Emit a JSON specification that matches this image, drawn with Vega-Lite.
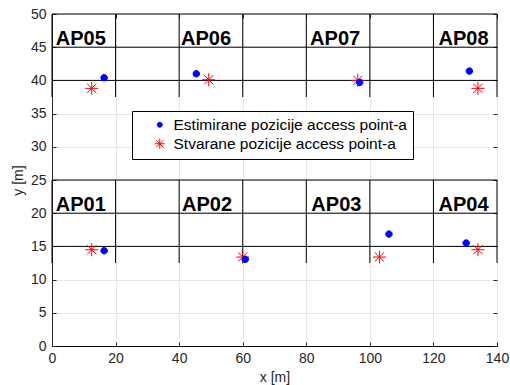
{
  "$schema": "https://vega.github.io/schema/vega-lite/v6.json",
  "width": 445,
  "height": 332,
  "autosize": {"type": "none"},
  "padding": {"left": 52, "top": 14, "right": 13, "bottom": 39},
  "background": "white",
  "config": {
    "view": {"stroke": null},
    "font": "Liberation Sans",
    "axis": {
      "labelFont": "Liberation Sans",
      "labelFontSize": 14,
      "labelColor": "#262626",
      "labelFlush": false,
      "labelOverlap": false,
      "titleFont": "Liberation Sans",
      "titleFontSize": 14,
      "titleFontWeight": "normal",
      "titleColor": "#262626",
      "tickColor": "#262626",
      "domainColor": "#262626",
      "gridColor": "#e6e6e6",
      "gridWidth": 1
    },
    "legend": {
      "labelFont": "Liberation Sans",
      "labelFontSize": 15.5,
      "labelColor": "#000000",
      "labelLimit": 400
    }
  },
  "datasets": {
    "walls": [
      {"x1": 0, "x2": 140, "y1": 50, "y2": 50},
      {"x1": 0, "x2": 140, "y1": 45, "y2": 45},
      {"x1": 0, "x2": 140, "y1": 40, "y2": 40},
      {"x1": 0, "x2": 140, "y1": 25, "y2": 25},
      {"x1": 0, "x2": 140, "y1": 20, "y2": 20},
      {"x1": 0, "x2": 140, "y1": 15, "y2": 15},
      {"x1": 0, "x2": 0, "y1": 37.5, "y2": 50},
      {"x1": 20, "x2": 20, "y1": 37.5, "y2": 50},
      {"x1": 40, "x2": 40, "y1": 37.5, "y2": 50},
      {"x1": 60, "x2": 60, "y1": 37.5, "y2": 50},
      {"x1": 80, "x2": 80, "y1": 37.5, "y2": 50},
      {"x1": 100, "x2": 100, "y1": 37.5, "y2": 50},
      {"x1": 120, "x2": 120, "y1": 37.5, "y2": 50},
      {"x1": 140, "x2": 140, "y1": 37.5, "y2": 50},
      {"x1": 0, "x2": 0, "y1": 12.5, "y2": 25},
      {"x1": 20, "x2": 20, "y1": 12.5, "y2": 25},
      {"x1": 40, "x2": 40, "y1": 12.5, "y2": 25},
      {"x1": 60, "x2": 60, "y1": 12.5, "y2": 25},
      {"x1": 80, "x2": 80, "y1": 12.5, "y2": 25},
      {"x1": 100, "x2": 100, "y1": 12.5, "y2": 25},
      {"x1": 120, "x2": 120, "y1": 12.5, "y2": 25},
      {"x1": 140, "x2": 140, "y1": 12.5, "y2": 25}
    ],
    "points": [
      {"ap": "AP01", "s": "Stvarane pozicije access point-a", "x": 12.5, "y": 14.5},
      {"ap": "AP02", "s": "Stvarane pozicije access point-a", "x": 60.0, "y": 13.4},
      {"ap": "AP03", "s": "Stvarane pozicije access point-a", "x": 103.0, "y": 13.4},
      {"ap": "AP04", "s": "Stvarane pozicije access point-a", "x": 134.0, "y": 14.5},
      {"ap": "AP05", "s": "Stvarane pozicije access point-a", "x": 12.5, "y": 38.8},
      {"ap": "AP06", "s": "Stvarane pozicije access point-a", "x": 49.3, "y": 40.1},
      {"ap": "AP07", "s": "Stvarane pozicije access point-a", "x": 96.2, "y": 40.0},
      {"ap": "AP08", "s": "Stvarane pozicije access point-a", "x": 134.0, "y": 38.8},
      {"ap": "AP01", "s": "Estimirane pozicije access point-a", "x": 16.4, "y": 14.35},
      {"ap": "AP02", "s": "Estimirane pozicije access point-a", "x": 60.8, "y": 13.05},
      {"ap": "AP03", "s": "Estimirane pozicije access point-a", "x": 106.0, "y": 16.85},
      {"ap": "AP04", "s": "Estimirane pozicije access point-a", "x": 130.3, "y": 15.5},
      {"ap": "AP05", "s": "Estimirane pozicije access point-a", "x": 16.4, "y": 40.4},
      {"ap": "AP06", "s": "Estimirane pozicije access point-a", "x": 45.4, "y": 41.0},
      {"ap": "AP07", "s": "Estimirane pozicije access point-a", "x": 96.8, "y": 39.7},
      {"ap": "AP08", "s": "Estimirane pozicije access point-a", "x": 131.3, "y": 41.4}
    ],
    "labels": [
      {"label": "AP01", "x": 1.2, "y": 20.4},
      {"label": "AP02", "x": 40.9, "y": 20.4},
      {"label": "AP03", "x": 81.6, "y": 20.4},
      {"label": "AP04", "x": 121.6, "y": 20.4},
      {"label": "AP05", "x": 1.2, "y": 45.4},
      {"label": "AP06", "x": 40.6, "y": 45.4},
      {"label": "AP07", "x": 81.2, "y": 45.4},
      {"label": "AP08", "x": 121.6, "y": 45.4}
    ]
  },
  "resolve": {"axis": {"x": "independent", "y": "independent"}},
  "layer": [
    {
      "data": {"name": "walls"},
      "mark": {"type": "rule", "color": "#000000", "strokeWidth": 1},
      "encoding": {
        "x": {
          "field": "x1", "type": "quantitative",
          "scale": {"domain": [0, 140], "nice": false, "zero": false},
          "axis": {"orient": "bottom", "title": "x [m]", "values": [0, 20, 40, 60, 80, 100, 120, 140], "grid": true, "tickSize": -4, "labelPadding": 9, "titlePadding": 5, "domainColor": "#000000"}
        },
        "x2": {"field": "x2"},
        "y": {
          "field": "y1", "type": "quantitative",
          "scale": {"domain": [0, 50], "nice": false, "zero": false},
          "axis": {"orient": "left", "title": "y [m]", "values": [0, 5, 10, 15, 20, 25, 30, 35, 40, 45, 50], "grid": true, "tickSize": -4, "labelPadding": 10, "titlePadding": 5}
        },
        "y2": {"field": "y2"}
      }
    },
    {
      "data": {"name": "points"},
      "mark": {"type": "point", "size": 169, "strokeWidth": 1, "opacity": 1},
      "encoding": {
        "x": {"field": "x", "type": "quantitative", "scale": {"domain": [0, 140], "nice": false, "zero": false}, "axis": null},
        "y": {"field": "y", "type": "quantitative", "scale": {"domain": [0, 50], "nice": false, "zero": false}, "axis": null},
        "shape": {
          "field": "s", "type": "nominal",
          "scale": {"domain": ["Estimirane pozicije access point-a", "Stvarane pozicije access point-a"], "range": ["M0.5,0A0.5,0.5,0,1,1,-0.5,0A0.5,0.5,0,1,1,0.5,0Z", "M-1,0L1,0M0,-1L0,1M-0.7,-0.7L0.7,0.7M-0.7,0.7L0.7,-0.7"]},
          "legend": {"title": null, "orient": "none", "legendX": 80, "legendY": 97, "strokeColor": "#000000", "fillColor": "#ffffff", "padding": 6, "symbolOffset": 14, "rowPadding": 2, "labelOffset": 6, "symbolStrokeWidth": 1, "labelLimit": 400}
        },
        "fill": {
          "field": "s", "type": "nominal",
          "scale": {"domain": ["Estimirane pozicije access point-a", "Stvarane pozicije access point-a"], "range": ["#0000ff", "transparent"]},
          "legend": {"title": null, "orient": "none", "legendX": 80, "legendY": 97, "strokeColor": "#000000", "fillColor": "#ffffff", "padding": 6, "symbolOffset": 14, "rowPadding": 2, "labelOffset": 6, "symbolStrokeWidth": 1, "labelLimit": 400}
        },
        "stroke": {
          "field": "s", "type": "nominal",
          "scale": {"domain": ["Estimirane pozicije access point-a", "Stvarane pozicije access point-a"], "range": ["#0000ff", "#ff0000"]},
          "legend": {"title": null, "orient": "none", "legendX": 80, "legendY": 97, "strokeColor": "#000000", "fillColor": "#ffffff", "padding": 6, "symbolOffset": 14, "rowPadding": 2, "labelOffset": 6, "symbolStrokeWidth": 1, "labelLimit": 400}
        }
      }
    },
    {
      "data": {"name": "labels"},
      "mark": {"type": "text", "align": "left", "baseline": "alphabetic", "font": "Liberation Sans", "fontWeight": "bold", "fontSize": 20, "color": "#000000"},
      "encoding": {
        "x": {
          "field": "x", "type": "quantitative", "scale": {"domain": [0, 140], "nice": false, "zero": false},
          "axis": {"orient": "top", "title": null, "labels": false, "domain": false, "grid": false, "tickSize": -4, "values": [0, 20, 40, 60, 80, 100, 120, 140]}
        },
        "y": {
          "field": "y", "type": "quantitative", "scale": {"domain": [0, 50], "nice": false, "zero": false},
          "axis": {"orient": "right", "title": null, "labels": false, "domain": false, "grid": false, "tickSize": -4, "values": [0, 5, 10, 15, 20, 25, 30, 35, 40, 45, 50]}
        },
        "text": {"field": "label"}
      }
    }
  ]
}
